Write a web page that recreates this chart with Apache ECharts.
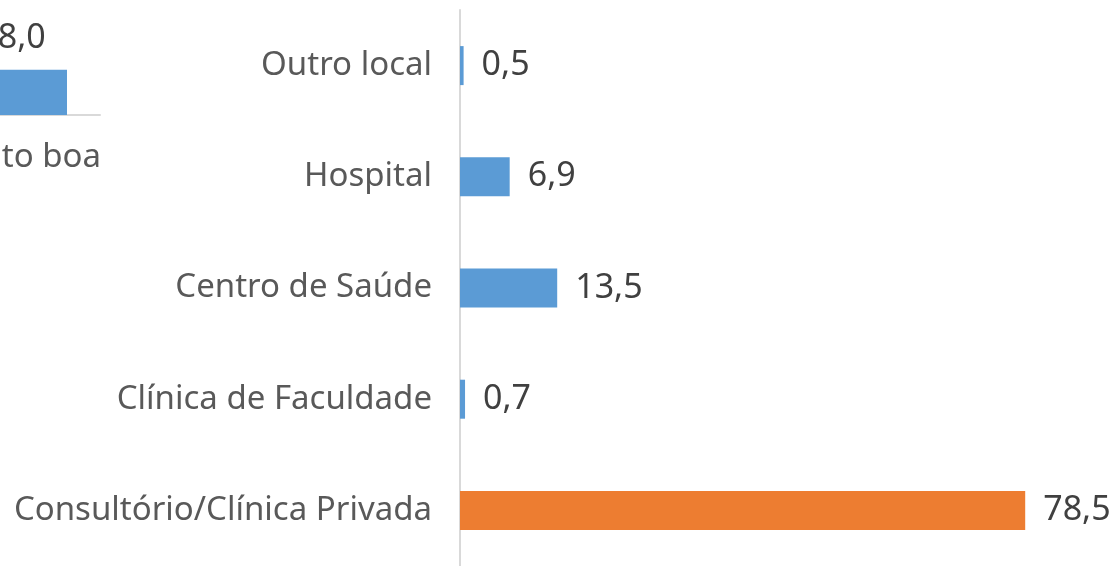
<!DOCTYPE html>
<html>
<head>
<meta charset="utf-8">
<script src="https://cdn.jsdelivr.net/npm/echarts@6/dist/echarts.min.js"></script>
<style>
html,body{margin:0;padding:0;background:#fff;overflow:hidden;width:1118px;height:566px;}
#c{width:1218px;height:566px;margin-left:-100px;}
</style>
</head>
<body>
<div id="c"></div>
<script>
// Main chart data (top to bottom)
const categories = ["Outro local", "Hospital", "Centro de Saúde", "Clínica de Faculdade", "Consultório/Clínica Privada"];
const values = [0.5, 6.9, 13.5, 0.7, 78.5];
const barColors = ["#5B9BD5", "#5B9BD5", "#5B9BD5", "#5B9BD5", "#ED7D31"];

// Partially visible neighbouring chart (cut at left edge)
const leftCategories = ["Muito boa"];
const leftValues = [28.0];

const fmt = v => v.toFixed(1).replace('.', ',');
const FONT = '"Noto Sans", "DejaVu Sans", sans-serif';

const chart = echarts.init(document.getElementById('c'), null, {renderer: 'canvas'});
chart.setOption({
  animation: false,
  backgroundColor: '#ffffff',
  grid: [
    {left: 560, top: 10, width: 648, height: 560, containLabel: false},
    {left: 34, top: 5, width: 166, height: 110, containLabel: false}
  ],
  xAxis: [
    {
      gridIndex: 0, type: 'value', min: 0, max: 90,
      show: false
    },
    {
      gridIndex: 1, type: 'category', data: leftCategories,
      axisLine: {show: true, lineStyle: {color: '#d9d9d9', width: 2}},
      axisTick: {show: false},
      axisLabel: {color: '#595959', fontSize: 33, fontFamily: FONT, margin: 26, padding: [0, 0, 0, 10]}
    }
  ],
  yAxis: [
    {
      gridIndex: 0, type: 'category', data: categories, inverse: true,
      axisLine: {show: true, lineStyle: {color: '#d9d9d9', width: 2}},
      axisTick: {show: false},
      axisLabel: {color: '#595959', fontSize: 33, fontFamily: FONT, margin: 28}
    },
    {
      gridIndex: 1, type: 'value', min: 0, max: 68,
      show: false
    }
  ],
  series: [
    {
      type: 'bar', xAxisIndex: 0, yAxisIndex: 0,
      barWidth: 39,
      data: values.map((v, i) => ({value: v, itemStyle: {color: barColors[i]}})),
      label: {
        show: true, position: 'right', distance: 18,
        color: '#404040', fontSize: 34, fontFamily: FONT,
        formatter: p => fmt(p.value)
      }
    },
    {
      type: 'bar', xAxisIndex: 1, yAxisIndex: 1,
      barWidth: 100,
      data: leftValues,
      itemStyle: {color: '#5B9BD5'},
      label: {
        show: true, position: 'top', distance: 14, offset: [-5, 0],
        color: '#404040', fontSize: 34, fontFamily: FONT,
        formatter: p => fmt(p.value)
      }
    }
  ]
});
</script>
</body>
</html>
